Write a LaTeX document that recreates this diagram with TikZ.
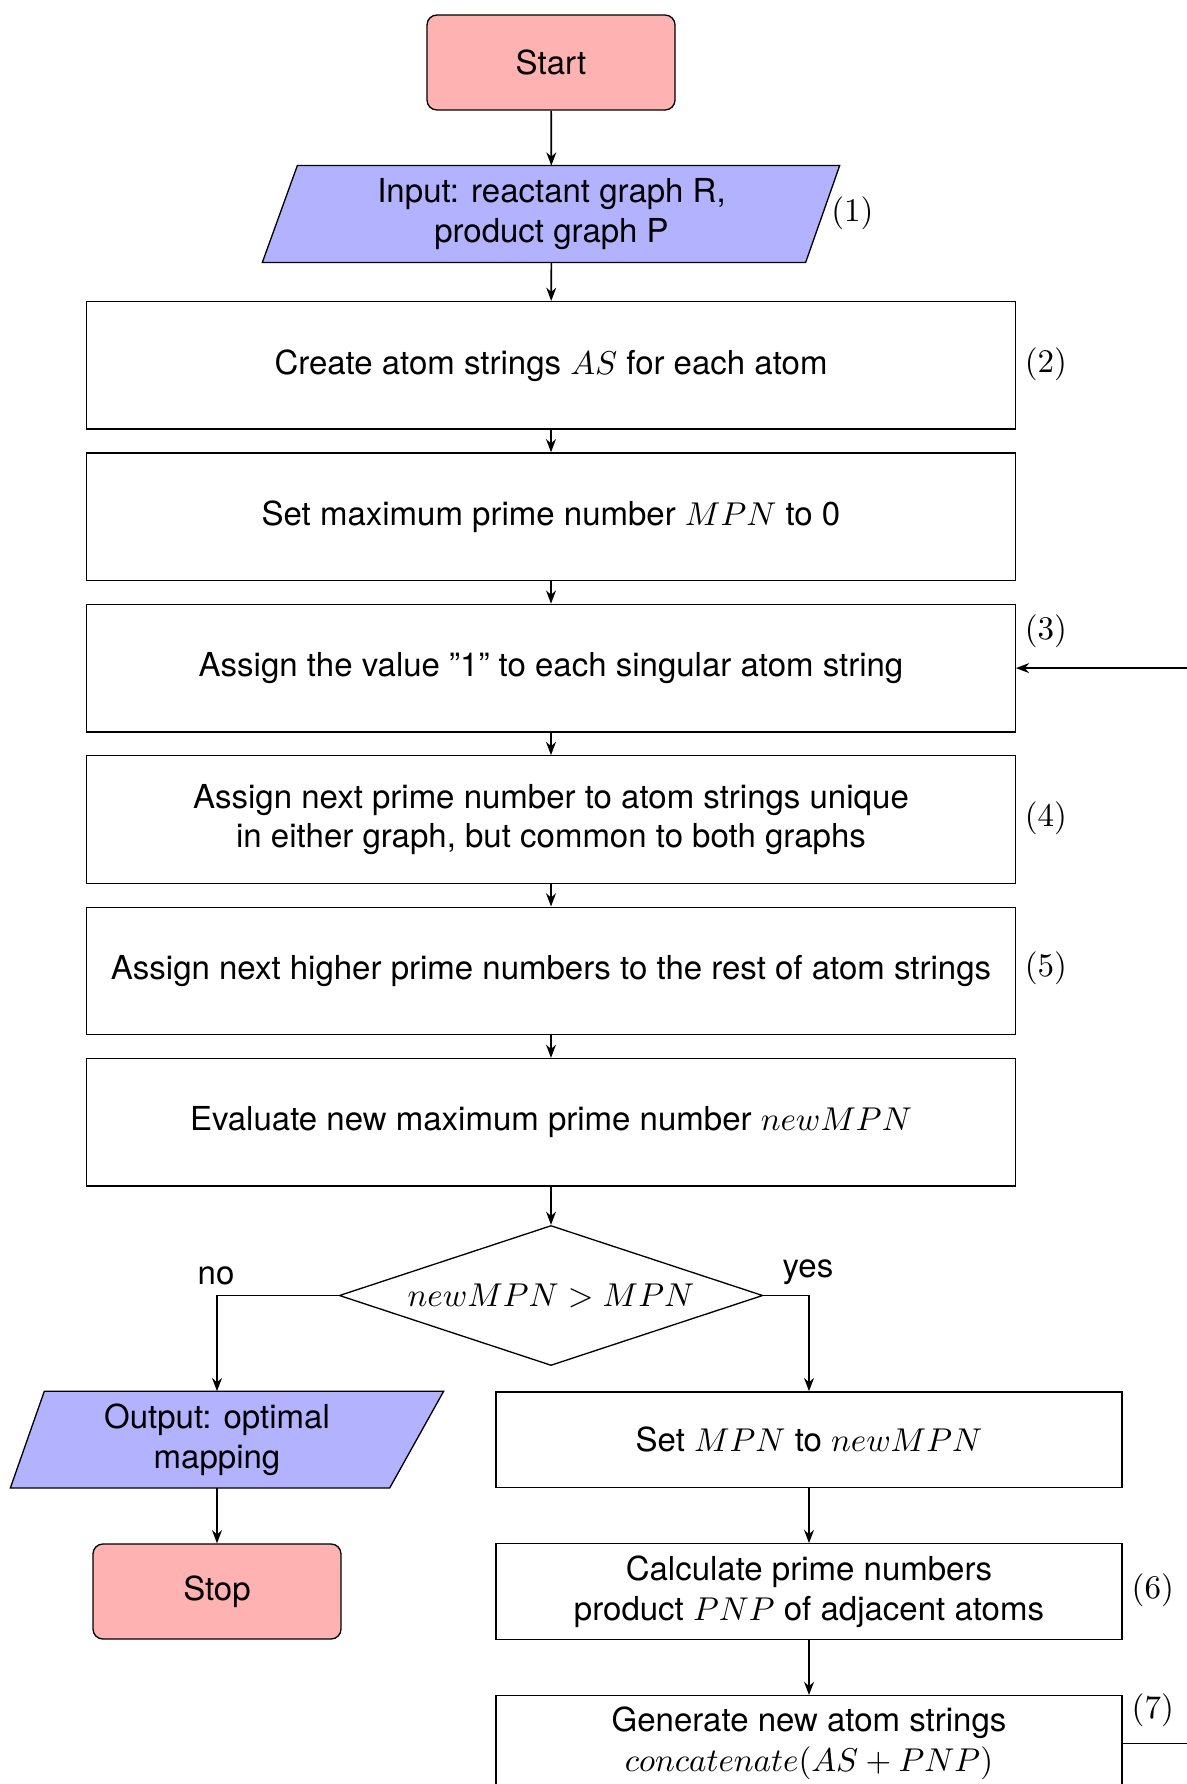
\documentclass[tikz,border=0pt]{standalone}
\usepackage{fontspec}
\setmainfont{TeX Gyre Heros}
\usetikzlibrary{shapes.geometric,arrows.meta,backgrounds}

\def\pxu{0.303pt}

\tikzset{
  startstop/.style={draw, rectangle, rounded corners=3pt, fill=red!30,
    minimum width=248*\pxu, minimum height=95*\pxu, inner sep=0pt},
  iobody/.style={rectangle, minimum height=95.5*\pxu, inner sep=1pt, align=center},
  ioframe/.style={draw, fill=blue!30},
  process/.style={draw, rectangle, minimum width=928.5*\pxu,
    minimum height=127.5*\pxu, inner sep=1pt, align=center},
  subprocess/.style={draw, rectangle, minimum width=626*\pxu,
    minimum height=95.5*\pxu, inner sep=1pt, align=center},
  decision/.style={draw, diamond, aspect=3, inner sep=0pt,
    minimum width=423.5*\pxu, minimum height=140*\pxu},
  tag/.style={inner sep=0pt},
  arr/.style={-{Stealth[length=4pt,width=3pt,inset=1.3pt]}, line width=0.5pt},
}

\begin{document}
\begin{tikzpicture}[x=\pxu, y=-\pxu]
  \useasboundingbox (0,0) rectangle (1186,1784);

  % main column
  \node[startstop] (start) at (551,62.5) {Start};
  \node[iobody, minimum width=507*\pxu] (input) at (551.5,214)
        {Input: reactant graph R,\\product graph P};
  \node[process] (atoms)  at (551,365.3) {Create atom strings $AS$ for each atom};
  \node[process] (setmpn) at (551,516.7) {Set maximum prime number $MPN$ to 0};
  \node[process] (single) at (551,668.1) {Assign the value ”1” to each singular atom string};
  \node[process] (unique) at (551,819.5)
        {Assign next prime number to atom strings unique\\in either graph, but common to both graphs};
  \node[process] (rest)   at (551,970.9) {Assign next higher prime numbers to the rest of atom strings};
  \node[process] (eval)   at (551,1122.3) {Evaluate new maximum prime number $newMPN$};
  \node[decision] (dec)   at (551,1295.5) {\fontsize{9.6pt}{11pt}\selectfont$newMPN > MPN$};

  % "no" branch
  \node[iobody, minimum width=344*\pxu] (output) at (217,1439.6)
        {Output: optimal\\mapping};
  \node[startstop] (stop) at (217,1591.5) {Stop};

  % "yes" branch
  \node[subprocess] (setnew) at (809,1439.6) {Set $MPN$ to $newMPN$};
  \node[subprocess] (prod)   at (809,1591.5) {Calculate prime numbers\\product $PNP$ of adjacent atoms};
  \node[subprocess] (gen)    at (809,1743.4) {Generate new atom strings\\$concatenate(AS + PNP)$};

  % slanted input/output frames behind their text
  \begin{scope}[on background layer]
    \draw[ioframe] ([xshift=-35*\pxu]input.south west) -- (input.north west)
      -- ([xshift=34*\pxu]input.north east) -- (input.south east) -- cycle;
    \draw[ioframe] ([xshift=-34*\pxu]output.south west) -- (output.north west)
      -- ([xshift=54*\pxu]output.north east) -- (output.south east) -- cycle;
  \end{scope}

  % step numbers
  \node[tag] (n1) at (852.5,213)  {$(1)$};
  \node[tag] (n2) at (1046,364)   {$(2)$};
  \node[tag] (n3) at (1046,631.6) {$(3)$};
  \node[tag] (n4) at (1046,818.2) {$(4)$};
  \node[tag] (n5) at (1046,968.4) {$(5)$};
  \node[tag] (n6) at (1152.8,1589.8) {$(6)$};
  \node[tag] (n7) at (1152.8,1710.4) {$(7)$};

  % branch labels
  \node[tag] (lno)  at (216,1275.5) {no};
  \node[tag] (lyes) at (808,1272.5) {yes};

  % connectors
  \draw[arr] (start) -- (input);
  \draw[arr] (input) -- (atoms);
  \draw[arr] (atoms) -- (setmpn);
  \draw[arr] (setmpn) -- (single);
  \draw[arr] (single) -- (unique);
  \draw[arr] (unique) -- (rest);
  \draw[arr] (rest) -- (eval);
  \draw[arr] (eval) -- (dec);
  \draw[arr] (dec.west) -| (output);
  \draw[arr] (dec.east) -| (setnew);
  \draw[arr] (output) -- (stop);
  \draw[arr] (setnew) -- (prod);
  \draw[arr] (prod) -- (gen);

  % loop back to step (3)
  \coordinate (loopcorner) at (1240,1743.4);
  \draw[arr] (gen.east) -- (loopcorner) |- (single.east);
\end{tikzpicture}
\end{document}
